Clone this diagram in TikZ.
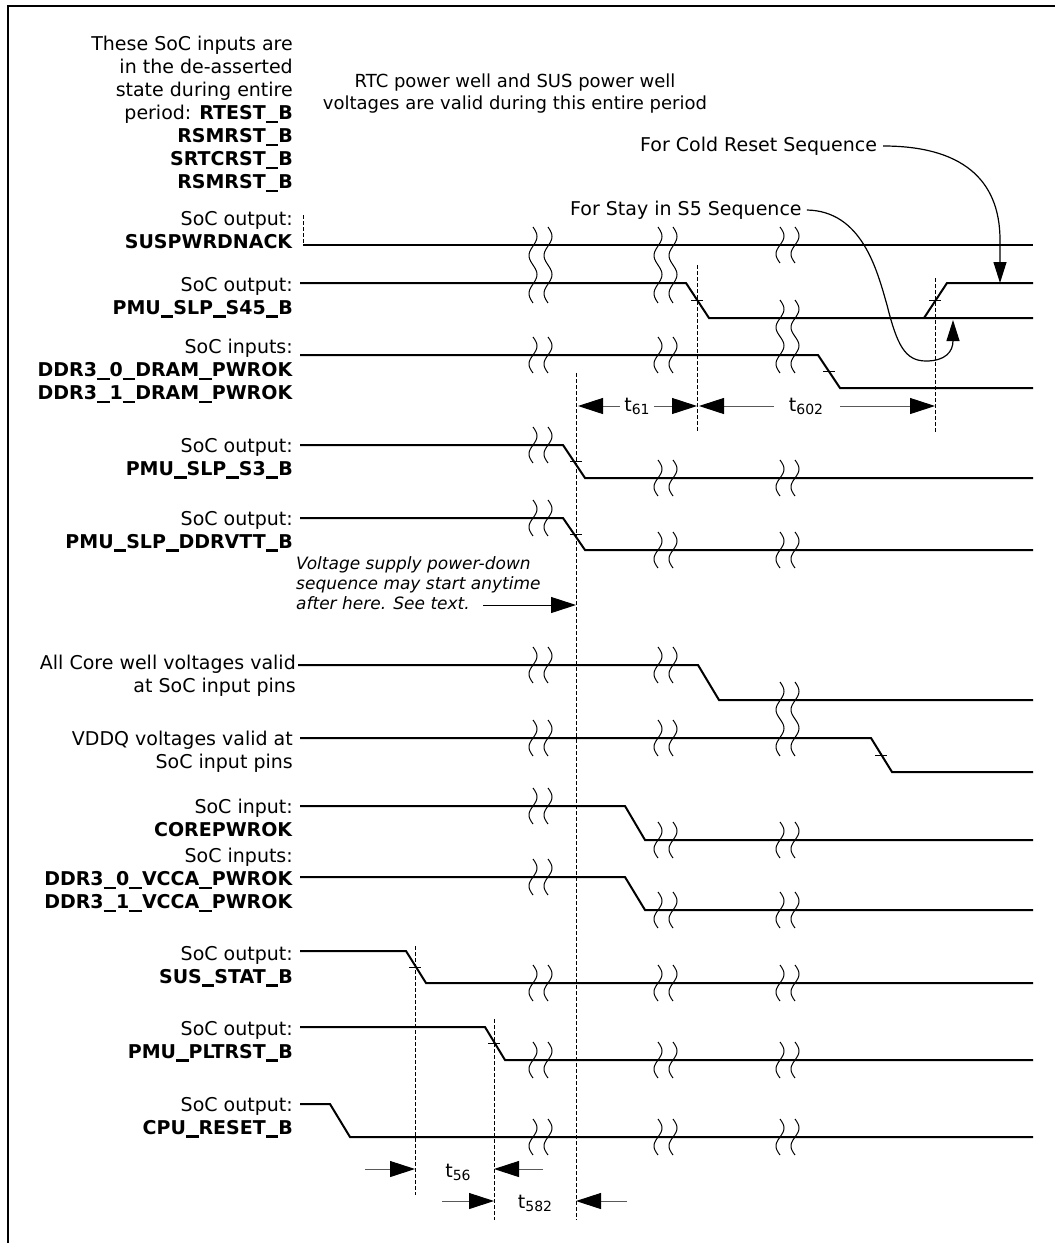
\documentclass[tikz,border=0pt]{standalone}
\usepackage{fontspec}
\setmainfont{DejaVu Sans}
\usetikzlibrary{arrows.meta}
\newcommand\brkpair[4]{%
  \draw[brkline] plot[variable=\t,domain=0:1,samples=41] ({#1+4*sin(360*#4*\t)},{#2+(#3-#2)*\t});
  \draw[brkline] plot[variable=\t,domain=0:1,samples=41] ({#1+15+4*sin(360*#4*\t)},{#2+(#3-#2)*\t});
}
\newcommand\tsub[1]{t\raisebox{-3pt}{\fontsize{14}{14}\selectfont #1}}
\newcommand\us{\rule[-0.17em]{0.66em}{0.11em}}
\begin{document}
\begin{tikzpicture}[x=1pt,y=-1pt,
  sig/.style={line width=2pt, line join=miter},
  brkline/.style={line width=1pt},
  dsh/.style={line width=1pt, dash pattern=on 4pt off 2pt},
  tickm/.style={line width=0.9pt},
  lbl/.style={anchor=north east, align=right, inner sep=0pt, font=\fontsize{19}{23}\selectfont},
  txt/.style={inner sep=0pt, font=\fontsize{19}{23}\selectfont},
  tarr/.style={draw=black!65, line width=1pt, -{Triangle[length=25pt,width=16pt,color=black,fill=black]}},
  carr/.style={line width=1.2pt, -{Triangle[length=21pt,width=13pt]}}
]
\useasboundingbox (0,0) rectangle (1055,1243);
% frame
\draw[line width=2.5pt] (8,1243) -- (8,6) -- (1055,6);

% labels
\node[lbl] (l0) at (293,36) {These SoC inputs are\\in the de-asserted\\state during entire\\period: \textbf{RTEST\us B}\\\textbf{RSMRST\us B}\\\textbf{SRTCRST\us B}\\\textbf{RSMRST\us B}};
\node[lbl] (l1) at (293,211) {SoC output:\\\textbf{SUSPWRDNACK}};
\node[lbl] (l2) at (293,277) {SoC output:\\\textbf{PMU\us SLP\us S45\us B}};
\node[lbl] (l3) at (293,339) {SoC inputs:\\\textbf{DDR3\us 0\us DRAM\us PWROK}\\\textbf{DDR3\us 1\us DRAM\us PWROK}};
\node[lbl] (l4) at (293,438) {SoC output:\\\textbf{PMU\us SLP\us S3\us B}};
\node[lbl] (l5) at (293,511) {SoC output:\\\textbf{PMU\us SLP\us DDRVTT\us B}};
\node[lbl] (l6) at (296,655) {All Core well voltages valid\\at SoC input pins};
\node[lbl] (l7) at (293,731) {VDDQ voltages valid at\\SoC input pins};
\node[lbl] (l8) at (293,799) {SoC input:\\\textbf{COREPWROK}};
\node[lbl] (l9) at (293,848) {SoC inputs:\\\textbf{DDR3\us 0\us VCCA\us PWROK}\\\textbf{DDR3\us 1\us VCCA\us PWROK}};
\node[lbl] (l10) at (293,946) {SoC output:\\\textbf{SUS\us STAT\us B}};
\node[lbl] (l11) at (293,1021) {SoC output:\\\textbf{PMU\us PLTRST\us B}};
\node[lbl] (l12) at (293,1097) {SoC output:\\\textbf{CPU\us RESET\us B}};

\node[align=center, inner sep=0pt, font=\fontsize{18}{22}\selectfont] (rtc) at (515,94) {RTC power well and SUS power well\\voltages are valid during this entire period};

% SUSPWRDNACK
\draw[dsh] (303,215) -- (303,245);
\draw[sig] (303,245) -- (1033,245);
% PMU_SLP_S45_B
\draw[sig] (300,283) -- (686,283) -- (709,318) -- (1033,318);
\draw[sig] (924,318) -- (947,283) -- (1033,283);
\draw[tickm] (691,300) -- (703,300);
\draw[tickm] (929,300) -- (941,300);
% DRAM PWROK
\draw[sig] (300,355) -- (818,355) -- (840,388) -- (1033,388);
\draw[tickm] (823,371) -- (835,371);
% S3
\draw[sig] (300,445) -- (563,445) -- (585,478) -- (1033,478);
\draw[tickm] (570,461) -- (582,461);
% DDRVTT
\draw[sig] (300,518) -- (563,518) -- (585,550) -- (1033,550);
\draw[tickm] (570,534) -- (582,534);
% Core well
\draw[sig] (298,665) -- (698,665) -- (719,700) -- (1033,700);
% VDDQ
\draw[sig] (300,738) -- (871,738) -- (892,772) -- (1033,772);
\draw[tickm] (875,755) -- (887,755);
% COREPWROK
\draw[sig] (300,806) -- (625,806) -- (645,840) -- (1033,840);
% VCCA
\draw[sig] (300,877) -- (625,877) -- (645,910) -- (1033,910);
% SUS_STAT_B
\draw[sig] (300,951) -- (406,951) -- (426,983) -- (1033,983);
\draw[tickm] (409,967) -- (421,967);
% PLTRST
\draw[sig] (300,1027) -- (485,1027) -- (505,1060) -- (1033,1060);
\draw[tickm] (488,1043) -- (500,1043);
% CPU_RESET
\draw[sig] (300,1104) -- (330,1104) -- (350,1137) -- (1033,1137);

% breaks
\brkpair{533}{227}{303}{2}
\brkpair{658}{227}{303}{2}
\brkpair{780}{227}{263}{1}
\brkpair{780}{300}{373}{2}
\brkpair{533}{337}{373}{1}
\brkpair{658}{337}{373}{1}
\brkpair{533}{427}{463}{1}
\brkpair{658}{460}{496}{1}
\brkpair{780}{460}{496}{1}
\brkpair{533}{500}{536}{1}
\brkpair{658}{532}{568}{1}
\brkpair{780}{532}{568}{1}
\brkpair{533}{647}{683}{1}
\brkpair{658}{647}{683}{1}
\brkpair{780}{682}{756}{2}
\brkpair{533}{720}{756}{1}
\brkpair{658}{720}{756}{1}
\brkpair{533}{788}{824}{1}
\brkpair{658}{822}{858}{1}
\brkpair{780}{822}{858}{1}
\brkpair{533}{859}{895}{1}
\brkpair{658}{892}{928}{1}
\brkpair{780}{892}{928}{1}
\brkpair{533}{965}{1001}{1}
\brkpair{658}{965}{1001}{1}
\brkpair{780}{965}{1001}{1}
\brkpair{533}{1042}{1078}{1}
\brkpair{658}{1042}{1078}{1}
\brkpair{780}{1042}{1078}{1}
\brkpair{533}{1119}{1155}{1}
\brkpair{658}{1119}{1155}{1}
\brkpair{780}{1119}{1155}{1}

% dashed verticals
\draw[dsh] (697,265) -- (697,432);
\draw[dsh] (935,278) -- (935,432);
\draw[dsh] (576,373) -- (576,1220);
\draw[dsh] (415,946) -- (415,1195);
\draw[dsh] (494,1019) -- (494,1220);

% timing arrows
\node[txt] (t61) at (637,406) {\tsub{61}};
\draw[tarr] (620,406) -- (578,406);
\draw[tarr] (654,406) -- (697,406);
\node[txt] (t602) at (806,406) {\tsub{602}};
\draw[tarr] (774,406) -- (699,406);
\draw[tarr] (840,406) -- (935,406);
\node[txt] (t56) at (458,1172) {\tsub{56}};
\draw[tarr] (365,1169) -- (415,1169);
\draw[tarr] (543,1169) -- (494,1169);
\node[txt] (t582) at (535,1203) {\tsub{582}};
\draw[tarr] (442,1201) -- (494,1201);
\draw[tarr] (627,1201) -- (576,1201);

% voltage supply note
\node[anchor=north west, align=left, inner sep=0pt, font=\fontsize{17}{20}\selectfont\itshape] (vnote) at (296,556) {Voltage supply power-down\\sequence may start anytime\\after here. See text.};
\coordinate (vtip) at (576,605);
\draw[tarr, draw=black] (483,605) -- (vtip);

% curved annotations
\node[txt, anchor=west] (cold) at (640,146) {For Cold Reset Sequence};
\coordinate (coldtip) at (1000,283);
\draw[carr] ([xshift=6pt]cold.east) .. controls (960,146) and (1000,178) .. (1000,240) -- (coldtip);
\node[txt, anchor=west] (stay) at (570,210) {For Stay in S5 Sequence};
\coordinate (staytip) at (953,320);
\draw[carr] ([xshift=5pt]stay.east) .. controls (862,211) and (877,270) .. (887,305) .. controls (897,345) and (905,361) .. (926,361) .. controls (945,361) and (953,352) .. (staytip);
\end{tikzpicture}
\end{document}
